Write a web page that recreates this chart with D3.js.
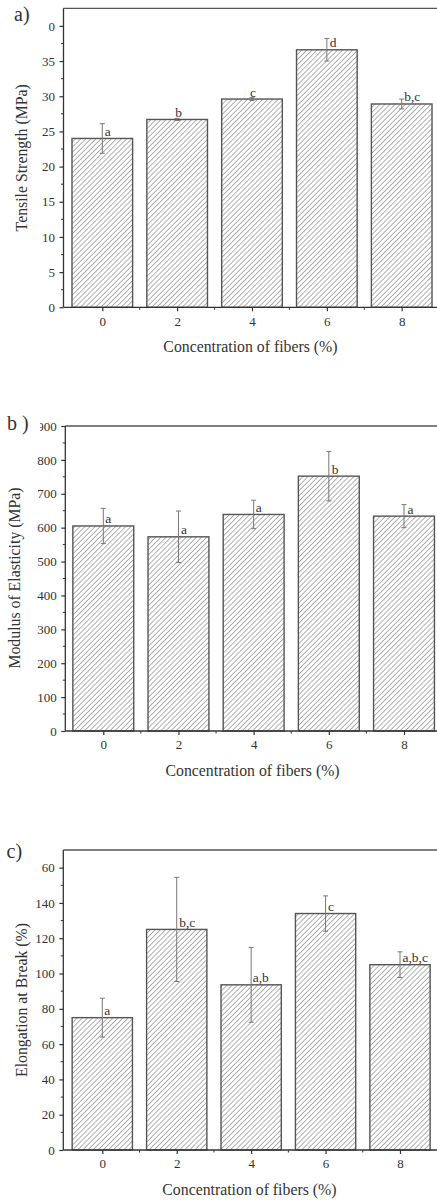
<!DOCTYPE html>
<html>
<head>
<meta charset="utf-8">
<script src="https://cdn.jsdelivr.net/npm/d3@7"></script>
<style>
  html, body { margin: 0; padding: 0; background: #fff; }
  svg { display: block; }
  text { font-family: "Liberation Serif", "Times New Roman", serif; fill: #333; }
</style>
</head>
<body>
<svg id="chart" width="437" height="1200"></svg>
<script>
// ---- data ----
const categories = [0, 2, 4, 6, 8];
const xLabel = "Concentration of fibers (%)";

const tensileValues = [24.0, 26.7, 29.6, 36.6, 28.9];
const tensileErrors = [2.1, 0.15, 0.2, 1.6, 0.7];
const tensileLetters = ["a", "b", "c", "d", "b,c"];
const tensileTicks = [0, 5, 10, 15, 20, 25, 30, 35, 40];

const modulusValues = [605, 573, 639, 752, 634];
const modulusErrors = [52, 76, 42, 73, 34];
const modulusLetters = ["a", "a", "a", "b", "a"];
const modulusTicks = [0, 100, 200, 300, 400, 500, 600, 700, 800, 900];

const elongationValues = [75, 125, 93.6, 134, 105];
const elongationErrors = [11, 29.5, 21.2, 10, 7.3];
const elongationLetters = ["a", "b,c", "a,b", "c", "a,b,c"];
const elongationTicks = [0, 20, 40, 60, 80, 100, 120, 140, 160];

// ---- drawing ----
const svg = d3.select("#chart");
const defs = svg.append("defs");
const pat = defs.append("pattern")
  .attr("id", "hatch").attr("patternUnits", "userSpaceOnUse")
  .attr("width", 3.6).attr("height", 3.6)
  .attr("patternTransform", "rotate(45)");
pat.append("rect").attr("width", 3.6).attr("height", 3.6).attr("fill", "#fff");
pat.append("line").attr("x1", 0).attr("y1", 0).attr("x2", 0).attr("y2", 3.6)
  .attr("stroke", "#7a7a7a").attr("stroke-width", 1.2);

function drawPanel(cfg) {
  const g = svg.append("g");
  const x = d3.scaleLinear().domain([0, 8]).range([cfg.x0, cfg.x8]);
  const y = d3.scaleLinear().domain([0, cfg.yMax]).range([cfg.bottom, cfg.top]);
  const step = x(2) - x(0);
  const bw = step * 0.81;

  // frame top line
  g.append("line").attr("x1", cfg.left).attr("x2", x(9.1))
    .attr("y1", cfg.top).attr("y2", cfg.top)
    .attr("stroke", "#555").attr("stroke-width", 1.3);

  // bars
  g.selectAll("rect.bar").data(cfg.values).join("rect")
    .attr("class", "bar")
    .attr("x", (d, i) => x(categories[i]) - bw / 2)
    .attr("width", bw)
    .attr("y", d => y(d))
    .attr("height", d => cfg.bottom - y(d))
    .attr("fill", "url(#hatch)")
    .attr("stroke", "#555").attr("stroke-width", 1.4);

  // error bars
  const eg = g.append("g").attr("stroke", "#777").attr("stroke-width", 1);
  cfg.values.forEach((v, i) => {
    const cx = x(categories[i]);
    const e = cfg.errors[i];
    eg.append("line").attr("x1", cx).attr("x2", cx).attr("y1", y(v + e)).attr("y2", y(v - e));
    eg.append("line").attr("x1", cx - 2.5).attr("x2", cx + 2.5).attr("y1", y(v + e)).attr("y2", y(v + e));
    eg.append("line").attr("x1", cx - 2.5).attr("x2", cx + 2.5).attr("y1", y(v - e)).attr("y2", y(v - e));
  });

  // letters
  g.selectAll("text.letter").data(cfg.letters).join("text")
    .attr("class", "letter")
    .attr("x", (d, i) => x(categories[i]) + cfg.letterDx[i])
    .attr("y", (d, i) => y(cfg.values[i]) - 2.5)
    .attr("font-size", 13.5)
    .text(d => d);

  // y axis
  const yAxis = d3.axisLeft(y).tickValues(cfg.ticks).tickSize(4).tickPadding(4.5)
    .tickFormat(d3.format("d"));
  const ya = g.append("g").attr("transform", `translate(${cfg.left},0)`).call(yAxis);
  ya.attr("font-family", null);
  ya.select(".domain").attr("d", `M0,${cfg.top}V${cfg.bottom}`).attr("stroke", "#333").attr("stroke-width", 1.3);
  ya.selectAll(".tick line").attr("stroke", "#333").attr("stroke-width", 1.2);
  ya.selectAll(".tick text").attr("font-size", 13).attr("fill", "#333");
  const tstep = cfg.ticks[1] - cfg.ticks[0];
  const minorY = d3.range(tstep / 2, cfg.yMax, tstep);
  ya.selectAll("line.minor").data(minorY).join("line").attr("class", "minor")
    .attr("x1", -2.5).attr("x2", 0).attr("y1", d => y(d)).attr("y2", d => y(d))
    .attr("stroke", "#333").attr("stroke-width", 1);

  // x axis
  const xAxis = d3.axisBottom(x).tickValues(categories).tickSize(4).tickPadding(5)
    .tickFormat(d3.format("d"));
  const xa = g.append("g").attr("transform", `translate(0,${cfg.bottom})`).call(xAxis);
  xa.attr("font-family", null);
  xa.select(".domain").attr("d", `M${cfg.left},0H${x(9.1)}`).attr("stroke", "#333").attr("stroke-width", 1.3);
  xa.selectAll(".tick line").attr("stroke", "#333").attr("stroke-width", 1.2);
  xa.selectAll(".tick text").attr("font-size", 13).attr("fill", "#333");
  xa.selectAll("line.minor").data([1, 3, 5, 7]).join("line").attr("class", "minor")
    .attr("x1", d => x(d)).attr("x2", d => x(d)).attr("y1", 0).attr("y2", 2.5)
    .attr("stroke", "#333").attr("stroke-width", 1);

  // axis titles
  g.append("text").attr("x", (cfg.left + x(8.9)) / 2 + 1).attr("y", cfg.bottom + 41)
    .attr("text-anchor", "middle").attr("dominant-baseline", "middle")
    .attr("font-size", 15.8).text(xLabel);
  g.append("text")
    .attr("transform", `translate(${cfg.yTitleX},${(cfg.top + cfg.bottom) / 2 + cfg.yTitleDy}) rotate(-90)`)
    .attr("text-anchor", "middle").attr("dominant-baseline", "middle")
    .attr("font-size", 15.8).text(cfg.yTitle);

  // white mask partly hiding the top tick label, then panel label
  const topTickY = y(cfg.ticks[cfg.ticks.length - 1]);
  g.append("rect").attr("x", 0).attr("y", topTickY - 8).attr("width", cfg.maskX).attr("height", 16)
    .attr("fill", "#fff");
  g.append("text").attr("x", cfg.labelX).attr("y", cfg.labelY)
    .attr("dominant-baseline", "middle").attr("font-size", 20).attr("fill", "#111")
    .text(cfg.label);
}

drawPanel({
  label: "a)", labelX: 14, labelY: 16,
  left: 63.5, x0: 102.3, x8: 401.7, top: 8.3, bottom: 307.3, yMax: 42.5,
  values: tensileValues, errors: tensileErrors, letters: tensileLetters,
  letterDx: [2.5, -2, -2, 3, 2.5],
  ticks: tensileTicks, yTitle: "Tensile Strength (MPa)", yTitleX: 23.3, yTitleDy: 0,
  maskX: 48.8
});

drawPanel({
  label: "b )", labelX: 7, labelY: 425,
  left: 65.3, x0: 103.3, x8: 404, top: 426, bottom: 731, yMax: 900,
  values: modulusValues, errors: modulusErrors, letters: modulusLetters,
  letterDx: [2, 2.5, 2, 3, 3.5],
  ticks: modulusTicks, yTitle: "Modulus of Elasticity (MPa)", yTitleX: 16.7, yTitleDy: -0.5,
  maskX: 40
});

drawPanel({
  label: "c)", labelX: 6.5, labelY: 853,
  left: 63.3, x0: 102.3, x8: 400, top: 850, bottom: 1150, yMax: 170,
  values: elongationValues, errors: elongationErrors, letters: elongationLetters,
  letterDx: [2, 2.5, 1.5, 2.3, 2.5],
  ticks: elongationTicks, yTitle: "Elongation at Break (%)", yTitleX: 23.3, yTitleDy: 0,
  maskX: 41.5
});
</script>
</body>
</html>
